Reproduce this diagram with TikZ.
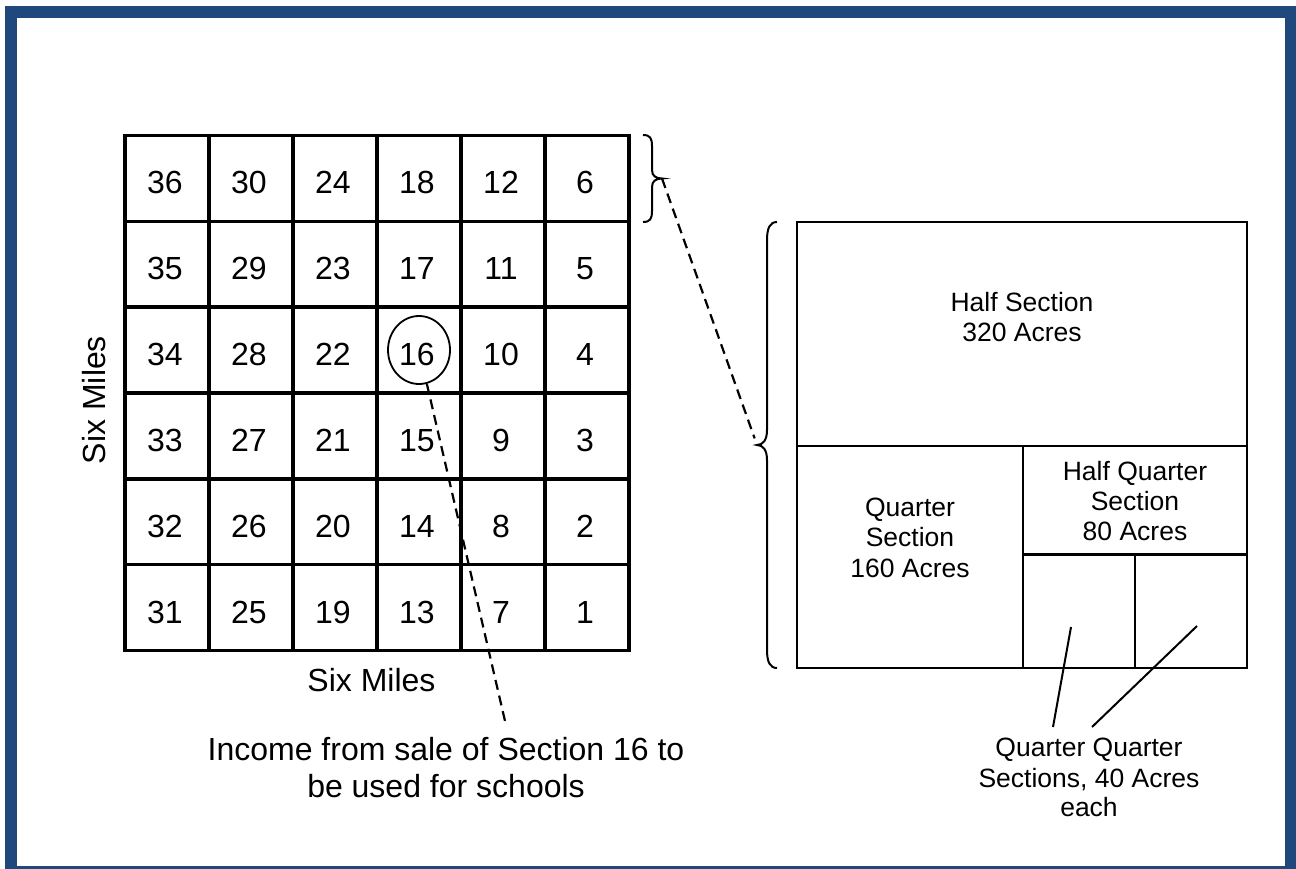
\documentclass[tikz,border=0pt]{standalone}
\usepackage{fontspec}
\setmainfont{Liberation Sans}
\usetikzlibrary{shapes.geometric}
\definecolor{frameblue}{RGB}{31,73,125}
\tikzset{
  bignum/.style={font=\fontsize{32}{38}\selectfont, inner sep=0pt, anchor=base},
  smalltxt/.style={font=\fontsize{26.5}{31}\selectfont, inner sep=0pt, anchor=base},
  gridline/.style={line width=3.4pt},
  plotline/.style={line width=2.6pt},
  dashline/.style={line width=2.2pt, dash pattern=on 10pt off 6pt},
  braceline/.style={line width=2pt},
  leaderline/.style={line width=2pt},
}
\begin{document}
\begin{tikzpicture}[x=1pt,y=-1pt,line join=miter]
\useasboundingbox (0,0) rectangle (1296,869);
% frame
\draw[frameblue, line width=12pt] (11,12) rectangle (1291,872);

% township grid
\draw[gridline] (125,135.5) rectangle (629,650.5);
\foreach \i in {1,...,5} {
  \draw[gridline] ({125+84*\i},135.5) -- ({125+84*\i},650.5);
  \draw[gridline] (125,{135.5+85.833*\i}) -- (629,{135.5+85.833*\i});
}
\foreach \r in {0,...,5} {
  \foreach \c in {0,...,5} {
    \pgfmathtruncatemacro\secnum{36-6*\c-\r}
    \node[bignum] (sec\secnum) at ({125+84*\c+40},{135.5+85.833*\r+58.5}) {\secnum};
  }
}

% labels of the grid
\node[bignum] (sixBottom) at (371.5,691) {Six Miles};
\node[bignum, rotate=90] (sixLeft) at (105,400) {Six Miles};

% circle round section 16 and its leader
\node[draw, ellipse, line width=1.8pt, minimum width=62pt, minimum height=68pt, inner sep=0pt] (c16) at (419,350) {};
\coordinate (incomeTip) at (505,721);
\draw[dashline] (c16) -- (incomeTip);
\node[bignum] (income1) at (446,760) {Income from sale of Section 16 to};
\node[bignum] (income2) at (446,797) {be used for schools};

% small brace by the top row
\coordinate (smallTip) at (662,178.5);
\draw[braceline] (643,135) .. controls (650,135) and (652,138) .. (652,146) -- (652,170)
  .. controls (652,176) and (656,178.5) .. (smallTip)
  .. controls (656,178.5) and (652,181) .. (652,187) -- (652,211)
  .. controls (652,219) and (650,222) .. (643,222);

% big brace by the section
\coordinate (bigTip) at (757,445);
\draw[braceline] (777,222) .. controls (770,222) and (767,228) .. (767,240) -- (767,430)
  .. controls (767,440) and (763,445) .. (bigTip)
  .. controls (763,445) and (767,450) .. (767,460) -- (767,650)
  .. controls (767,662) and (770,668) .. (777,668);
\draw[dashline, shorten >=7pt] (smallTip) -- (bigTip);

% section divided
\draw[plotline] (797,222) rectangle (1247,668);
\draw[plotline] (797,446) -- (1247,446);
\draw[plotline] (1023,446) -- (1023,668);
\draw[plotline] (1023,554.5) -- (1247,554.5);
\draw[plotline] (1135,554.5) -- (1135,668);

\node[smalltxt] (half1) at (1022,311) {Half Section};
\node[smalltxt] (half2) at (1022,341) {320 Acres};
\node[smalltxt] (quarter1) at (910,516.7) {Quarter};
\node[smalltxt] (quarter2) at (910,546.7) {Section};
\node[smalltxt] (quarter3) at (910,577.3) {160 Acres};
\node[smalltxt] (hq1) at (1135,480) {Half Quarter};
\node[smalltxt] (hq2) at (1135,510.7) {Section};
\node[smalltxt] (hq3) at (1135,540.7) {80 Acres};
\node[smalltxt] (qq1) at (1089,756.7) {Quarter Quarter};
\node[smalltxt] (qq2) at (1089,787.3) {Sections, 40 Acres};
\node[smalltxt] (qq3) at (1089,816.7) {each};

\coordinate (qqA) at (1071,627);
\coordinate (qqB) at (1197,626);
\coordinate (lblA) at (1053,727);
\coordinate (lblB) at (1092,727);
\draw[leaderline] (qqA) -- (lblA);
\draw[leaderline] (qqB) -- (lblB);
\end{tikzpicture}
\end{document}
